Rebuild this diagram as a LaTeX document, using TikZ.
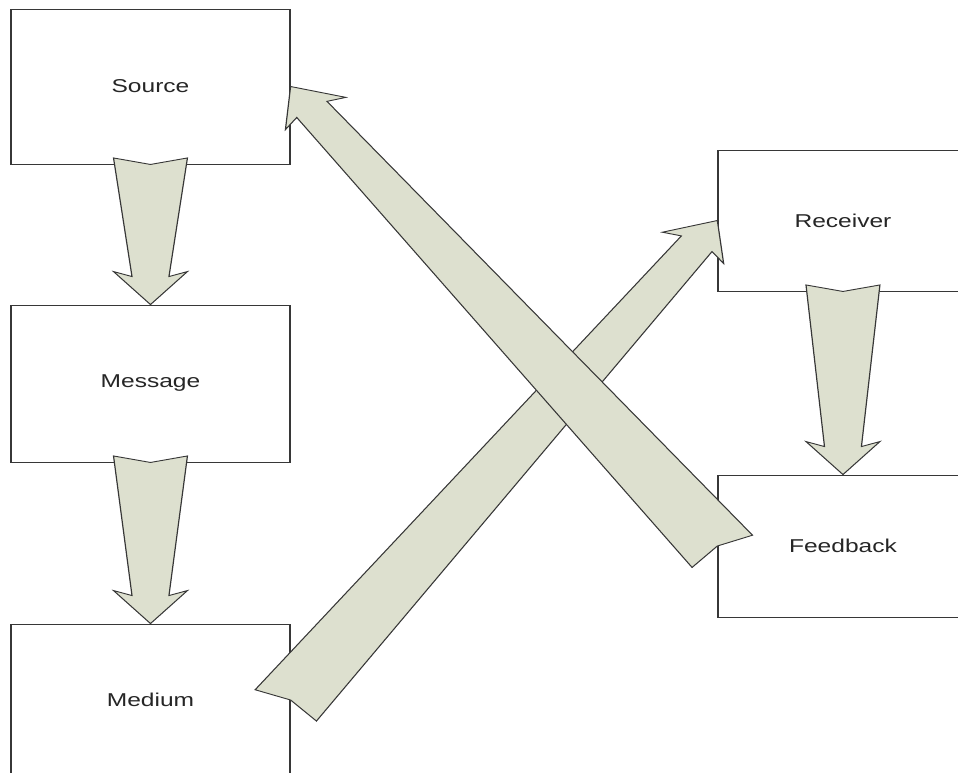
\documentclass[tikz,border=0pt]{standalone}
\usepackage{fontspec}
\setmainfont{Liberation Sans}
\usetikzlibrary{calc}

\definecolor{arrowfill}{RGB}{221,224,207}
\definecolor{edgegray}{RGB}{55,55,55}

% block arrow from tail notch #1 to tip #2
\newcommand{\blockarrow}[2]{%
    \draw[block arrow]
        ($(#1)!-6.5pt!(#2)!28pt!90:(#2)$) -- (#1) --
        ($(#1)!-6.5pt!(#2)!28pt!-90:(#2)$) --
        ($(#2)!28pt!(#1)!14pt!90:(#1)$) --
        ($(#2)!33pt!(#1)!28pt!90:(#1)$) -- (#2) --
        ($(#2)!33pt!(#1)!28pt!-90:(#1)$) --
        ($(#2)!28pt!(#1)!14pt!-90:(#1)$) -- cycle;
}

\begin{document}
\begin{tikzpicture}[
        %units are pixels of the picture, y runs downwards
        x=1pt, y=-1pt,
        box/.style={draw=edgegray, fill=white, line width=0.9pt,
            minimum width=211.4pt, minimum height=155pt, inner sep=0pt,
            font=\fontsize{18.6}{22}\selectfont, text=black!85},
        block arrow/.style={draw=edgegray, fill=arrowfill, line width=0.9pt},
]
\clip (0,0) rectangle (958,772);
\begin{scope}[transform canvas={xscale=1.32}]

    % left column
    \node[box] (source) at (114,86.5) {Source};
    \node[box, minimum height=157pt] (message) at (114,383.5) {Message};
    \node[box, minimum height=152pt] (medium) at (114,700) {Medium};
    % right column
    \node[box, minimum width=189.4pt, minimum height=141pt] (receiver) at (638.6,220.5) {Receiver};
    \node[box, minimum width=189.4pt, minimum height=142pt] (feedback) at (638.6,546) {Feedback};

    % arrows
    \blockarrow{source.south}{message.north}
    \blockarrow{message.south}{medium.north}
    \blockarrow{receiver.south}{feedback.north}
    \blockarrow{medium.east}{receiver.west}
    \blockarrow{feedback.west}{source.east}
\end{scope}
\end{tikzpicture}
\end{document}
